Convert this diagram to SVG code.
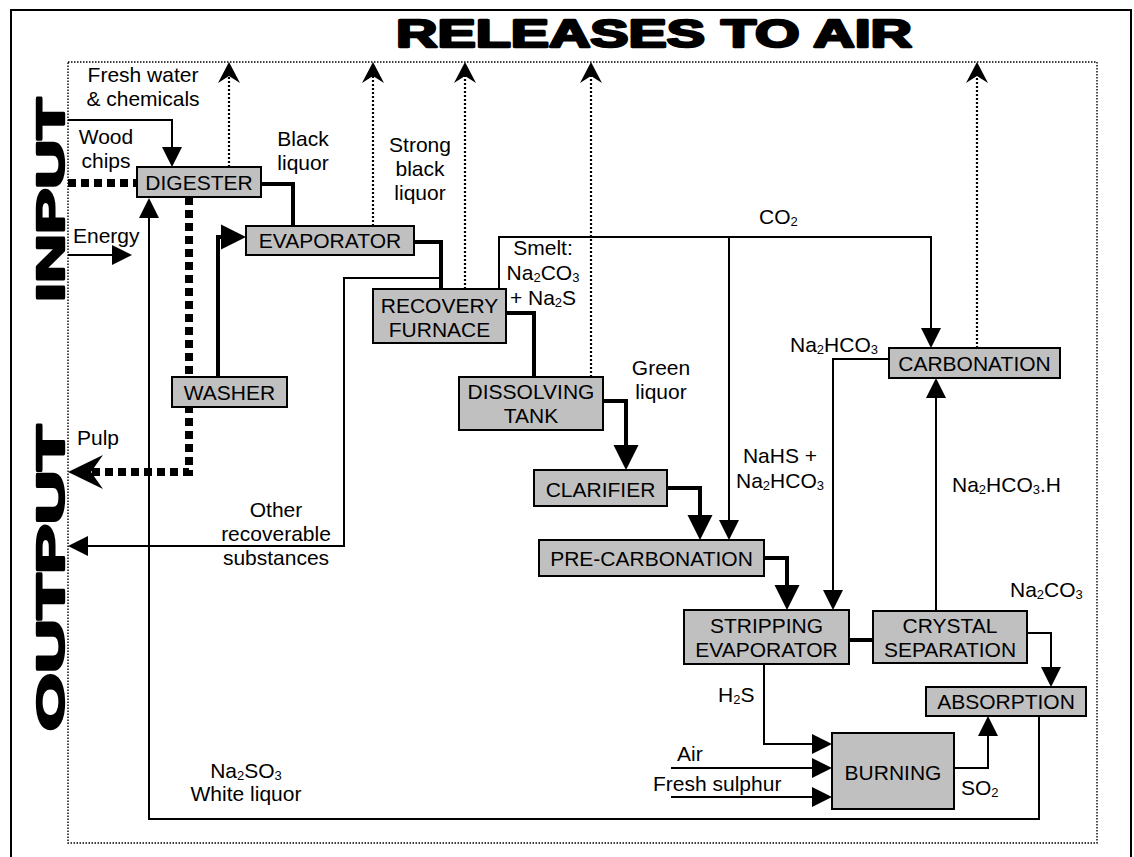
<svg xmlns="http://www.w3.org/2000/svg" width="1134" height="857" viewBox="0 0 1134 857">
<style>
.box{fill:#c0c0c0;stroke:#000;stroke-width:2}
.t{font-family:"Liberation Sans",Arial,sans-serif;font-size:21px;fill:#000}
.m{text-anchor:middle}
.sub{font-size:13px}
.big{font-family:"Liberation Sans",Arial,sans-serif;font-weight:bold;fill:#000;stroke:#000;stroke-width:2.4;stroke-linejoin:round}
.thin{fill:none;stroke:#000;stroke-width:2}
.thick{fill:none;stroke:#000;stroke-width:4}
.dot{fill:none;stroke:#000;stroke-width:2.2;stroke-dasharray:2 2}
.pulp{fill:none;stroke:#000;stroke-width:8;stroke-dasharray:8 5}
marker path{fill:#000;stroke:none}
</style>
<defs>
<marker id="ah" markerUnits="userSpaceOnUse" markerWidth="20" markerHeight="20" refX="0" refY="10" orient="auto" overflow="visible"><path d="M0,0 L20,10 L0,20 Z"/></marker>
<marker id="ahb" markerUnits="userSpaceOnUse" markerWidth="25" markerHeight="25" refX="0" refY="12.5" orient="auto" overflow="visible"><path d="M0,0 L25,12.5 L0,25 Z"/></marker>
<marker id="chev" markerUnits="userSpaceOnUse" markerWidth="21" markerHeight="22" refX="7" refY="11" orient="auto" overflow="visible"><path d="M0,0 L21,11 L0,22 L7,11 Z"/></marker>
<marker id="chevb" markerUnits="userSpaceOnUse" markerWidth="35" markerHeight="34" refX="12" refY="17" orient="auto" overflow="visible"><path d="M0,0 L35,17 L0,34 L12,17 Z"/></marker>
</defs>
<rect width="1134" height="857" fill="#fff"/>
<g id="frame">
<path d="M11,870 V10 H1131 V870" fill="none" stroke="#000" stroke-width="2"/>
<rect x="68" y="62" width="1029" height="781" fill="none" stroke="#000" stroke-width="1.4" stroke-dasharray="1.5 1.5"/>
<text class="big" x="396" y="47" font-size="38" textLength="516" lengthAdjust="spacingAndGlyphs">RELEASES TO AIR</text>
<text class="big m" font-size="39" transform="translate(64,200) rotate(-90)" textLength="204" lengthAdjust="spacingAndGlyphs">INPUT</text>
<text class="big m" font-size="39" transform="translate(64,578) rotate(-90)" textLength="306" lengthAdjust="spacingAndGlyphs">OUTPUT</text>
</g>
<g id="connectors">
<path class="thin" d="M68,120 H172 V147" marker-end="url(#ah)"/>
<path class="thin" d="M68,255 H112" marker-end="url(#ah)"/>
<path class="thin" d="M441,278 H344 V546 H88" marker-end="url(#ah)"/>
<path class="thin" d="M499,289 V237 H931 V328" marker-end="url(#ah)"/>
<path class="thin" d="M729,237 V520" marker-end="url(#ah)"/>
<path class="thin" d="M889,359 H833 V590" marker-end="url(#ah)"/>
<path class="thin" d="M936,611 V398" marker-end="url(#ah)"/>
<path class="thin" d="M1027,633 H1051 V667" marker-end="url(#ah)"/>
<path class="thin" d="M764,664 V744 H812" marker-end="url(#ah)"/>
<path class="thin" d="M671,768 H812" marker-end="url(#ah)"/>
<path class="thin" d="M671,797 H812" marker-end="url(#ah)"/>
<path class="thin" d="M954,768 H988 V736" marker-end="url(#ah)"/>
<path class="thin" d="M1039,716 V819 H149 V218" marker-end="url(#ah)"/>
<path class="thick" d="M261,184 H293 V226"/>
<path class="thick" d="M218,377 V237 H221" marker-end="url(#ahb)"/>
<path class="thick" d="M414,242 H441 V289"/>
<path class="thick" d="M506,313 H534 V377"/>
<path class="thick" d="M603,401 H626 V445" marker-end="url(#ahb)"/>
<path class="thick" d="M667,488 H700 V515" marker-end="url(#ahb)"/>
<path class="thick" d="M764,558 H787 V585" marker-end="url(#ahb)"/>
<path class="thick" d="M849,640 H873"/>
<path class="dot" d="M229,167 V76" marker-end="url(#chev)"/>
<path class="dot" d="M373,226 V76" marker-end="url(#chev)"/>
<path class="dot" d="M465,289 V76" marker-end="url(#chev)"/>
<path class="dot" d="M591,377 V76" marker-end="url(#chev)"/>
<path class="dot" d="M977,348 V76" marker-end="url(#chev)"/>
<path class="pulp" d="M68,183 H137"/>
<path class="pulp" d="M189,197 V472 H91" marker-end="url(#chevb)"/>
</g>
<g id="labels">
<text class="t m" x="143" y="82">Fresh water</text>
<text class="t m" x="143" y="106">&amp; chemicals</text>
<text class="t m" x="106" y="144">Wood</text>
<text class="t m" x="106" y="168">chips</text>
<text class="t" x="73" y="243">Energy</text>
<text class="t m" x="303" y="146">Black</text>
<text class="t m" x="303" y="170">liquor</text>
<text class="t m" x="420" y="152">Strong</text>
<text class="t m" x="420" y="176">black</text>
<text class="t m" x="420" y="200">liquor</text>
<text class="t m" x="543" y="255">Smelt:</text>
<text class="t m" x="543" y="280">Na<tspan class="sub" dy="2">2</tspan><tspan dy="-2">CO</tspan><tspan class="sub" dy="2">3</tspan></text>
<text class="t m" x="543" y="305">+ Na<tspan class="sub" dy="2">2</tspan><tspan dy="-2">S</tspan></text>
<text class="t" x="759" y="224">CO<tspan class="sub" dy="2">2</tspan></text>
<text class="t m" x="661" y="375">Green</text>
<text class="t m" x="661" y="399">liquor</text>
<text class="t m" x="780" y="463">NaHS +</text>
<text class="t m" x="780" y="488">Na<tspan class="sub" dy="2">2</tspan><tspan dy="-2">HCO</tspan><tspan class="sub" dy="2">3</tspan></text>
<text class="t" x="790" y="352">Na<tspan class="sub" dy="2">2</tspan><tspan dy="-2">HCO</tspan><tspan class="sub" dy="2">3</tspan></text>
<text class="t" x="952" y="492">Na<tspan class="sub" dy="2">2</tspan><tspan dy="-2">HCO</tspan><tspan class="sub" dy="2">3</tspan><tspan dy="-2">.H</tspan></text>
<text class="t" x="1010" y="597">Na<tspan class="sub" dy="2">2</tspan><tspan dy="-2">CO</tspan><tspan class="sub" dy="2">3</tspan></text>
<text class="t" x="718" y="702">H<tspan class="sub" dy="2">2</tspan><tspan dy="-2">S</tspan></text>
<text class="t" x="677" y="761">Air</text>
<text class="t" x="653" y="791">Fresh sulphur</text>
<text class="t" x="961" y="795">SO<tspan class="sub" dy="2">2</tspan></text>
<text class="t" x="77" y="445">Pulp</text>
<text class="t m" x="276" y="517">Other</text>
<text class="t m" x="276" y="541">recoverable</text>
<text class="t m" x="276" y="565">substances</text>
<text class="t m" x="246" y="778">Na<tspan class="sub" dy="2">2</tspan><tspan dy="-2">SO</tspan><tspan class="sub" dy="2">3</tspan></text>
<text class="t m" x="246" y="801">White liquor</text>
</g>
<g id="digester"><rect class="box" x="137" y="167" width="124" height="30"/><text class="t m" x="199" y="190">DIGESTER</text></g>
<g id="evaporator"><rect class="box" x="246" y="226" width="168" height="29"/><text class="t m" x="330" y="248">EVAPORATOR</text></g>
<g id="recovery-furnace"><rect class="box" x="373" y="289" width="133" height="54"/><text class="t m" x="439.5" y="313">RECOVERY</text><text class="t m" x="439.5" y="337">FURNACE</text></g>
<g id="washer"><rect class="box" x="172" y="377" width="115" height="30"/><text class="t m" x="229.5" y="400">WASHER</text></g>
<g id="dissolving-tank"><rect class="box" x="459" y="377" width="144" height="53"/><text class="t m" x="531" y="399">DISSOLVING</text><text class="t m" x="531" y="423">TANK</text></g>
<g id="clarifier"><rect class="box" x="534" y="470" width="133" height="36"/><text class="t m" x="600.5" y="497">CLARIFIER</text></g>
<g id="pre-carbonation"><rect class="box" x="539" y="540" width="225" height="36"/><text class="t m" x="651.5" y="566">PRE-CARBONATION</text></g>
<g id="stripping-evaporator"><rect class="box" x="684" y="610" width="165" height="54"/><text class="t m" x="766.5" y="633">STRIPPING</text><text class="t m" x="766.5" y="657">EVAPORATOR</text></g>
<g id="crystal-separation"><rect class="box" x="873" y="611" width="154" height="52"/><text class="t m" x="950" y="633">CRYSTAL</text><text class="t m" x="950" y="657">SEPARATION</text></g>
<g id="absorption"><rect class="box" x="926" y="687" width="160" height="29"/><text class="t m" x="1006" y="709">ABSORPTION</text></g>
<g id="burning"><rect class="box" x="832" y="733" width="122" height="76"/><text class="t m" x="893" y="780">BURNING</text></g>
<g id="carbonation"><rect class="box" x="889" y="348" width="171" height="30"/><text class="t m" x="974.5" y="371">CARBONATION</text></g>
</svg>
